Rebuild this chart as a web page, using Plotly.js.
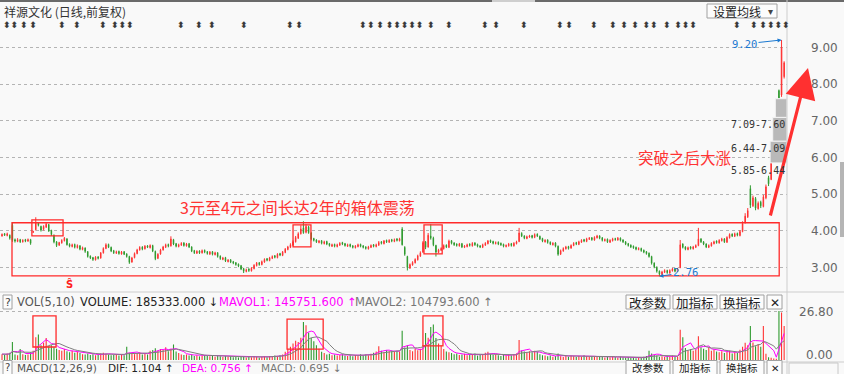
<!DOCTYPE html>
<html><head><meta charset="utf-8">
<script src="https://cdn.plot.ly/plotly-3.0.1.min.js"></script>
<style>html,body{margin:0;padding:0;background:#f9f9f9;}#chart{width:844px;height:374px;}</style>
</head><body><div id="chart"></div>
<script>
// ---- price data (daily bars, left to right) ----
const openP = [
3.86,3.92,3.87,3.88,4.15,3.76,3.71,3.76,3.70,3.76,
3.72,3.76,3.96,4.03,4.21,4.12,4.04,4.10,4.17,4.01,
3.88,3.70,3.61,3.67,3.73,3.78,3.63,3.57,3.63,3.54,
3.59,3.49,3.53,3.43,3.31,3.27,3.21,3.29,3.26,3.40,
3.52,3.63,3.55,3.46,3.39,3.44,3.37,3.43,3.37,3.30,
3.15,3.27,3.38,3.48,3.56,3.51,3.59,3.54,3.60,3.44,
3.25,3.37,3.48,3.55,3.63,3.59,3.76,3.65,3.57,3.61,
3.67,3.59,3.65,3.56,3.46,3.39,3.45,3.40,3.47,3.43,
3.37,3.43,3.35,3.40,3.31,3.22,3.27,3.16,3.21,3.16,
3.13,3.09,3.05,2.97,2.89,2.96,2.91,2.97,3.05,3.13,
3.08,3.15,3.24,3.19,3.25,3.32,3.27,3.38,3.33,3.41,
3.49,3.55,3.61,3.70,3.80,3.92,4.08,3.96,4.10,3.94,
3.79,3.75,3.68,3.73,3.65,3.71,3.65,3.58,3.63,3.57,
3.61,3.68,3.65,3.58,3.63,3.59,3.54,3.57,3.63,3.59,
3.56,3.51,3.55,3.62,3.57,3.61,3.70,3.65,3.74,3.69,
3.76,3.71,3.78,3.73,4.05,3.55,3.30,2.99,3.07,3.13,
3.21,3.31,3.42,3.70,3.56,3.86,3.80,3.60,3.41,3.47,
3.51,3.61,3.55,3.73,3.67,3.64,3.59,3.65,3.55,3.57,
3.64,3.59,3.67,3.63,3.59,3.55,3.61,3.65,3.74,3.71,
3.65,3.69,3.66,3.63,3.57,3.59,3.65,3.59,3.65,3.71,
3.93,3.86,3.79,3.83,3.87,3.82,3.91,3.85,3.79,3.70,
3.75,3.69,3.62,3.67,3.58,3.37,3.45,3.51,3.57,3.53,
3.60,3.68,3.63,3.69,3.76,3.71,3.77,3.81,3.75,3.81,
3.86,3.81,3.73,3.77,3.69,3.73,3.79,3.75,3.80,3.75,
3.70,3.65,3.61,3.58,3.55,3.49,3.52,3.47,3.43,3.39,
3.30,3.12,3.01,2.90,2.81,2.87,2.92,2.85,2.91,2.97,
2.90,3.00,3.64,3.56,3.49,3.56,3.51,3.55,3.60,3.78,
3.70,3.64,3.55,3.59,3.65,3.72,3.67,3.73,3.78,3.69,
3.81,3.91,3.85,3.93,3.87,3.98,4.22,4.38,5.15,4.68,
4.88,4.60,4.78,4.66,4.90,5.45,5.40,6.44,7.09,7.82,
7.70,8.20];
const highP = [
3.93,3.94,3.95,3.90,4.22,3.79,3.80,3.78,3.77,3.78,
3.79,3.78,4.00,4.37,4.24,4.14,4.15,4.22,4.19,4.03,
3.90,3.72,3.70,3.77,3.83,3.80,3.66,3.65,3.65,3.63,
3.61,3.57,3.55,3.45,3.33,3.29,3.31,3.31,3.42,3.55,
3.66,3.65,3.57,3.48,3.46,3.46,3.45,3.45,3.39,3.32,
3.29,3.41,3.51,3.58,3.58,3.61,3.61,3.63,3.62,3.46,
3.39,3.51,3.59,3.65,3.65,3.85,3.78,3.67,3.65,3.69,
3.69,3.67,3.67,3.58,3.48,3.47,3.47,3.49,3.49,3.45,
3.45,3.45,3.43,3.42,3.33,3.29,3.29,3.23,3.23,3.18,
3.15,3.11,3.07,2.99,2.97,2.98,3.01,3.09,3.15,3.15,
3.19,3.25,3.26,3.29,3.33,3.34,3.39,3.40,3.45,3.53,
3.59,3.66,3.74,3.86,3.96,4.15,4.26,4.18,4.14,3.96,
3.81,3.77,3.75,3.75,3.73,3.73,3.67,3.65,3.65,3.65,
3.69,3.70,3.67,3.65,3.65,3.61,3.61,3.65,3.65,3.61,
3.58,3.59,3.63,3.64,3.65,3.72,3.72,3.75,3.76,3.77,
3.78,3.79,3.80,3.81,4.10,3.58,3.32,3.11,3.17,3.25,
3.35,3.44,3.72,3.72,3.94,4.18,3.84,3.62,3.51,3.55,
3.63,3.63,3.76,3.75,3.69,3.66,3.67,3.67,3.61,3.65,
3.66,3.69,3.69,3.65,3.61,3.65,3.69,3.75,3.76,3.73,
3.71,3.71,3.68,3.65,3.63,3.67,3.67,3.69,3.73,4.08,
3.96,3.88,3.87,3.89,3.89,3.93,3.93,3.87,3.81,3.77,
3.77,3.71,3.69,3.69,3.60,3.49,3.55,3.59,3.59,3.63,
3.69,3.70,3.73,3.77,3.78,3.81,3.83,3.83,3.85,3.89,
3.88,3.83,3.79,3.79,3.77,3.81,3.81,3.83,3.82,3.77,
3.72,3.67,3.63,3.60,3.57,3.55,3.54,3.49,3.45,3.41,
3.32,3.14,3.03,2.92,2.91,2.95,2.94,2.95,2.99,2.99,
2.99,3.75,3.66,3.58,3.57,3.58,3.59,3.63,4.08,3.80,
3.72,3.66,3.63,3.69,3.73,3.74,3.77,3.81,3.80,3.85,
3.93,3.93,3.95,3.95,4.02,4.26,4.48,4.62,5.24,4.96,
4.92,4.80,4.82,4.98,5.26,5.50,5.85,6.44,7.09,7.85,
9.20,8.62];
const lowP = [
3.84,3.86,3.85,3.76,3.70,3.68,3.69,3.67,3.68,3.69,
3.70,3.62,3.94,4.01,4.12,3.98,4.01,4.08,3.97,3.86,
3.66,3.56,3.59,3.65,3.71,3.60,3.55,3.55,3.52,3.52,
3.47,3.47,3.40,3.27,3.23,3.18,3.19,3.22,3.24,3.38,
3.50,3.53,3.42,3.37,3.37,3.35,3.35,3.34,3.27,3.10,
3.13,3.25,3.36,3.46,3.47,3.49,3.53,3.52,3.42,3.20,
3.23,3.35,3.46,3.53,3.55,3.57,3.61,3.55,3.55,3.59,
3.57,3.57,3.53,3.42,3.37,3.37,3.37,3.38,3.39,3.35,
3.34,3.33,3.33,3.27,3.21,3.20,3.15,3.14,3.12,3.09,
3.05,3.01,2.93,2.85,2.87,2.88,2.89,2.95,3.03,3.05,
3.06,3.13,3.17,3.17,3.23,3.25,3.25,3.31,3.31,3.39,
3.47,3.53,3.59,3.68,3.78,3.90,3.92,3.93,3.92,3.74,
3.71,3.67,3.66,3.63,3.63,3.61,3.57,3.56,3.55,3.55,
3.59,3.61,3.57,3.56,3.55,3.52,3.52,3.55,3.55,3.52,
3.49,3.49,3.53,3.55,3.55,3.59,3.63,3.63,3.67,3.67,
3.69,3.69,3.71,3.71,3.60,3.32,2.92,2.96,3.05,3.11,
3.19,3.29,3.40,3.50,3.54,3.76,3.58,3.30,3.39,3.45,
3.49,3.53,3.53,3.63,3.59,3.57,3.57,3.53,3.53,3.55,
3.57,3.57,3.59,3.55,3.53,3.53,3.59,3.63,3.67,3.63,
3.63,3.61,3.59,3.55,3.55,3.57,3.57,3.57,3.63,3.69,
3.83,3.77,3.77,3.81,3.79,3.80,3.83,3.75,3.69,3.68,
3.65,3.61,3.60,3.55,3.32,3.34,3.43,3.49,3.49,3.51,
3.58,3.61,3.61,3.67,3.69,3.69,3.75,3.73,3.73,3.79,
3.77,3.71,3.71,3.67,3.67,3.71,3.73,3.73,3.71,3.67,
3.61,3.57,3.53,3.51,3.47,3.47,3.43,3.39,3.35,3.27,
3.08,2.98,2.86,2.76,2.79,2.85,2.83,2.83,2.89,2.87,
2.88,2.98,3.52,3.47,3.47,3.49,3.49,3.53,3.58,3.67,
3.61,3.53,3.53,3.57,3.63,3.65,3.65,3.71,3.67,3.67,
3.79,3.83,3.83,3.85,3.85,3.96,4.20,4.35,4.62,4.65,
4.56,4.58,4.62,4.64,4.86,5.22,5.38,6.44,7.09,7.60,
7.65,8.15];
const closeP = [
3.90,3.88,3.92,3.80,3.74,3.72,3.76,3.70,3.74,3.72,
3.76,3.66,3.98,4.22,4.15,4.02,4.12,4.18,4.00,3.90,
3.70,3.60,3.68,3.74,3.80,3.62,3.58,3.62,3.55,3.60,
3.50,3.54,3.44,3.30,3.26,3.22,3.28,3.25,3.40,3.52,
3.62,3.55,3.45,3.40,3.43,3.38,3.42,3.36,3.30,3.14,
3.26,3.38,3.48,3.55,3.50,3.58,3.55,3.60,3.45,3.24,
3.36,3.48,3.56,3.62,3.58,3.78,3.64,3.58,3.62,3.66,
3.60,3.64,3.56,3.45,3.40,3.44,3.40,3.46,3.42,3.38,
3.42,3.36,3.40,3.30,3.24,3.26,3.18,3.20,3.15,3.12,
3.08,3.04,2.96,2.90,2.94,2.92,2.98,3.06,3.12,3.08,
3.16,3.22,3.20,3.26,3.30,3.28,3.36,3.34,3.42,3.50,
3.56,3.62,3.70,3.82,3.92,4.05,3.95,4.12,3.95,3.78,
3.74,3.70,3.72,3.66,3.70,3.64,3.60,3.62,3.58,3.62,
3.66,3.64,3.60,3.62,3.58,3.55,3.58,3.62,3.58,3.55,
3.52,3.56,3.60,3.58,3.62,3.68,3.66,3.72,3.70,3.74,
3.72,3.76,3.74,3.78,3.62,3.36,3.00,3.08,3.14,3.22,
3.32,3.40,3.68,3.55,3.88,3.80,3.62,3.42,3.48,3.52,
3.60,3.56,3.72,3.66,3.62,3.60,3.64,3.56,3.58,3.62,
3.60,3.66,3.62,3.58,3.56,3.62,3.66,3.72,3.70,3.66,
3.68,3.64,3.62,3.58,3.60,3.64,3.60,3.66,3.70,3.94,
3.86,3.80,3.84,3.86,3.82,3.90,3.86,3.78,3.72,3.74,
3.68,3.64,3.66,3.58,3.36,3.46,3.52,3.56,3.52,3.60,
3.66,3.64,3.70,3.74,3.72,3.78,3.80,3.76,3.82,3.86,
3.80,3.74,3.76,3.70,3.74,3.78,3.76,3.80,3.74,3.70,
3.64,3.60,3.56,3.54,3.50,3.52,3.46,3.42,3.38,3.30,
3.12,3.02,2.90,2.82,2.88,2.92,2.86,2.92,2.96,2.90,
2.96,3.62,3.55,3.50,3.54,3.52,3.56,3.60,3.78,3.70,
3.64,3.56,3.60,3.66,3.70,3.68,3.74,3.78,3.70,3.82,
3.90,3.86,3.92,3.88,3.98,4.20,4.40,4.55,4.70,4.90,
4.62,4.75,4.68,4.92,5.20,5.28,5.85,6.44,7.09,7.62,
9.00,8.58];
// volume, in 10,000 lots (axis max 26.80)
const volume = [
3.2,2.8,3.5,4.0,9.8,3.0,2.6,6.0,3.2,2.8,
3.0,4.2,5.0,12.5,13.9,8.0,9.5,12.0,7.5,8.0,
7.0,6.2,5.5,5.0,6.0,4.8,4.2,5.0,4.0,4.5,
3.8,3.2,3.0,3.5,2.8,3.2,2.6,3.0,3.6,4.0,
3.4,3.0,2.6,2.8,3.2,2.5,3.0,2.6,7.2,4.0,
3.6,3.2,3.8,4.2,3.0,3.4,3.0,5.0,5.5,6.4,
5.2,6.0,5.5,7.0,4.8,6.2,8.5,4.6,3.8,3.0,
2.8,3.0,2.5,3.2,2.2,2.6,2.0,2.4,2.8,2.2,
2.0,2.6,1.8,2.4,2.0,1.6,2.2,1.8,2.0,1.5,
1.8,1.4,2.0,1.6,1.3,1.8,1.5,2.2,1.6,1.4,
1.8,2.0,1.5,2.2,1.6,2.4,1.8,2.6,3.0,4.5,
6.0,7.2,9.0,10.5,9.8,12.2,20.8,19.0,15.0,12.0,
10.2,8.0,6.2,4.5,3.8,3.0,3.4,2.6,3.0,2.4,
2.8,3.2,2.5,2.2,2.6,2.0,2.8,2.4,3.2,2.6,
3.0,2.6,3.4,4.0,4.6,7.5,5.0,4.2,5.4,4.8,
5.2,4.4,5.0,4.6,16.0,6.8,8.0,5.5,4.8,6.0,
5.4,6.2,8.2,14.8,12.2,18.0,19.4,12.0,9.0,8.0,
6.0,4.6,4.2,3.8,3.2,3.5,2.8,3.0,3.4,2.6,
3.0,2.8,3.6,2.4,2.8,3.2,4.0,4.5,3.2,2.8,
3.0,2.6,2.2,2.8,2.4,3.0,2.6,3.2,3.6,11.0,
5.2,4.6,4.0,4.8,4.2,5.0,4.4,3.2,2.6,2.4,
2.0,2.4,1.8,2.2,3.6,2.0,1.6,2.2,1.8,2.4,
2.0,1.6,2.2,1.8,2.6,2.0,1.6,2.2,1.8,2.0,
1.6,2.0,1.4,1.8,1.5,2.2,1.6,1.4,1.8,1.5,
1.3,1.6,1.2,1.4,1.0,1.5,1.2,1.8,2.2,5.0,
3.6,2.8,2.4,1.8,2.0,1.6,2.2,1.8,2.4,2.0,
1.8,16.6,12.5,6.5,5.2,6.0,5.0,5.6,13.0,7.0,
6.2,5.5,6.8,5.0,5.8,4.6,4.2,4.8,3.8,4.4,
5.0,3.6,4.2,3.8,5.6,7.2,9.4,8.0,18.6,9.6,
7.5,8.8,7.2,18.6,3.4,1.5,1.2,0.80,0.74,26.8,
26.0,18.53];
// bars carrying an information-mine marker in the top row
const infoBars = [3,5,8,11,23,29,39,45,47,48,69,76,81,93,111,114,139,145,148,151,153,155,157,158,
  162,172,186,190,201,215,218,228,236,240,244,248,250,258,262,263,264,283,292,295,296,298,299];
// price gaps (grey blocks): bar before the gap, gap low, gap high
const gapBar = [298, 297, 296];
const gapLow = [7.09, 6.44, 5.85];
const gapHigh = [7.60, 7.09, 6.44];
const priceTicks = [3, 4, 5, 6, 7, 8, 9];
const sellSignalBar = 26;
const headerVol = ['VOL(5,10)', 'VOLUME: 185333.000 ↓', 'MAVOL1: 145751.600 ↑', 'MAVOL2: 104793.600 ↑'];
const headerMacd = ['MACD(12,26,9)', 'DIF: 1.104 ↑', 'DEA: 0.756 ↑', 'MACD: 0.695 ↓'];
const buttonLabels = ['改参数', '加指标', '换指标', '✕'];

// ---------------- drawing ----------------
const RED = '#ff3232', GREEN = '#2e9a2e', BG = '#f9f9f9';
const idx = closeP.map((_, i) => i);
const W = 787, H = 374;          // plot area width (right margin holds the axis)
const px = x => x / W;           // pixel -> paper x
const py = y => 1 - y / H;       // pixel -> paper y
const XR = [-0.77, 302.1];
const YR = [2.333, 10.289];

function movAvg(arr, n) {
  return arr.map((_, i) => {
    const s = arr.slice(Math.max(0, i - n + 1), i + 1);
    return s.reduce((a, b) => a + b, 0) / s.length;
  });
}
const volColors = idx.map(i => closeP[i] >= openP[i] ? RED : GREEN);
const vmax = Math.max(...volume);

const traces = [
  {type: 'candlestick', x: idx, open: openP, high: highP, low: lowP, close: closeP,
   xaxis: 'x', yaxis: 'y', whiskerwidth: 0, hoverinfo: 'skip',
   increasing: {line: {color: RED, width: 1}, fillcolor: RED},
   decreasing: {line: {color: GREEN, width: 1}, fillcolor: GREEN}},
  {type: 'bar', x: idx, y: volume, xaxis: 'x2', yaxis: 'y2', width: 0.42,
   marker: {color: volColors, line: {width: 0}}, hoverinfo: 'skip'},
  {type: 'scatter', mode: 'lines', x: idx, y: movAvg(volume, 5), xaxis: 'x2', yaxis: 'y2',
   line: {color: '#ff00ff', width: 1}, hoverinfo: 'skip'},
  {type: 'scatter', mode: 'lines', x: idx, y: movAvg(volume, 10), xaxis: 'x2', yaxis: 'y2',
   line: {color: '#7f7f7f', width: 1}, hoverinfo: 'skip'}
];

const shapes = [];
const annotations = [];
const RB = {type: 'rect', line: {color: '#ff2a2a', width: 1.3}, fillcolor: 'rgba(0,0,0,0)'};
// price boxes
shapes.push(Object.assign({}, RB, {xref: 'x', yref: 'y', x0: 3.85, x1: 299.1, y0: 2.77, y1: 4.22}));
shapes.push(Object.assign({}, RB, {xref: 'x', yref: 'y', x0: 11.5, x1: 23.5, y0: 3.86, y1: 4.30}));
shapes.push(Object.assign({}, RB, {xref: 'x', yref: 'y', x0: 112.0, x1: 118.9, y0: 3.56, y1: 4.16}));
shapes.push(Object.assign({}, RB, {xref: 'x', yref: 'y', x0: 162.4, x1: 169.4, y0: 3.37, y1: 4.16}));
// volume boxes
shapes.push(Object.assign({}, RB, {xref: 'x2', yref: 'y2', x0: 11.9, x1: 20.8, y0: 7.1, y1: 24.1}));
shapes.push(Object.assign({}, RB, {xref: 'x2', yref: 'y2', x0: 109.7, x1: 123.6, y0: 6.0, y1: 22.4}));
shapes.push(Object.assign({}, RB, {xref: 'x2', yref: 'y2', x0: 162.0, x1: 169.7, y0: 7.7, y1: 24.1}));
// gap blocks
gapLow.forEach((lo, k) => {
  shapes.push({type: 'rect', xref: 'x', yref: 'y', x0: gapBar[k] - 0.4, x1: XR[1], y0: lo, y1: gapHigh[k],
    fillcolor: '#b9b9b9', line: {color: '#f4f4f4', width: 1}, layer: 'above'});
});
// frame lines
const L = (x0, y0, x1, y1, c, w) => shapes.push({type: 'line', xref: 'paper', yref: 'paper',
  x0: px(x0), y0: py(y0), x1: px(x1), y1: py(y1), line: {color: c, width: w}});
L(0, 1, 492, 1, '#6a6a6a', 2); L(535, 1, 844, 1, '#6a6a6a', 2); L(492, 1, 535, 1, '#cfcfcf', 2);
L(787, 0, 787, 374, '#cdcdcd', 1);
L(0, 292, 844, 292, '#cdcdcd', 1);
L(0, 362, 844, 362, '#cdcdcd', 1);
shapes.push({type: 'rect', xref: 'paper', yref: 'paper', x0: px(840), x1: px(844), y0: py(237), y1: py(162),
  fillcolor: '#b5b5b5', line: {width: 0}});
shapes.push({type: 'rect', xref: 'paper', yref: 'paper', x0: px(789), x1: px(838), y0: py(378), y1: py(363),
  fillcolor: 'rgba(0,0,0,0)', line: {color: '#c8c8c8', width: 1}});

const T = (text, x, y, opt) => annotations.push(Object.assign({text: text, xref: 'paper', yref: 'paper',
  x: px(x), y: py(y), showarrow: false, xanchor: 'left', yanchor: 'middle',
  font: {family: 'DejaVu Sans', size: 12, color: '#333'}}, opt || {}));
const btn = (x0, y0, x1, y1) => shapes.push({type: 'rect', xref: 'paper', yref: 'paper',
  x0: px(x0), x1: px(x1), y0: py(y1), y1: py(y0), fillcolor: '#fcfcfc', line: {color: '#a0a0a0', width: 1}});

// title + 设置均线 button
T('祥源文化 (日线,前复权)', 3, 11, {borderpad: 0, font: {family: 'Noto Sans CJK SC', size: 12, color: '#333'}});
btn(707, 4, 777, 18);
T('设置均线', 737, 11, {xanchor: 'center', borderpad: 0, font: {family: 'Noto Sans CJK SC', size: 12, color: '#222'}});
T('▾', 770, 11, {xanchor: 'center', borderpad: 0, font: {family: 'DejaVu Sans', size: 10, color: '#444'}});

// info-mine markers: neighbouring bars (<= 4 apart) share one run of glyphs,
// thin spaces widen the run where the bars are further apart
const runs = [];
infoBars.forEach(b => {
  const last = runs[runs.length - 1];
  if (last && b - last[last.length - 1] <= 4) last.push(b); else runs.push([b]);
});
runs.forEach(r => {
  let s = '⬍';
  for (let k = 1; k < r.length; k++) s += '\u2009'.repeat(Math.max(0, r[k] - r[k - 1] - 2)) + '⬍';
  annotations.push({text: '<b>' + s + '</b>', xref: 'x', yref: 'paper',
    x: (r[0] + r[r.length - 1]) / 2, y: py(25.5), yanchor: 'middle', borderpad: 0, showarrow: false,
    font: {family: 'DejaVu Sans', size: 9, color: '#3a3a3a'}});
});

// indicator headers and buttons
[[302, headerVol, 11.5, 12.5], [367.5, headerMacd, 10.5, 10.5]].forEach(([yy, hdr, fs, bfs]) => {
  btn(3, yy - 7, 12, yy + 7);
  T('?', 7.5, yy, {xanchor: 'center', font: {family: 'DejaVu Sans', size: fs - 0.5, color: '#444'}});
  const xs = yy < 340 ? [15, 78, 217, 353] : [15, 106, 180, 259];
  const cs = ['#555', '#222', '#ff00ff', '#777'];
  hdr.forEach((t, k) => T(t, xs[k], yy, {font: {family: 'DejaVu Sans', size: fs, color: cs[k]}}));
  const bx = [[626, 670], [673, 717], [720, 764], [767, 782]];
  buttonLabels.forEach((t, k) => {
    btn(bx[k][0], yy - 7, bx[k][1], yy + 7);
    T(t, (bx[k][0] + bx[k][1]) / 2, yy, {xanchor: 'center',
      font: {family: 'Noto Sans CJK SC', size: k < 3 ? bfs : bfs - 1, color: '#222'}});
  });
});

// volume axis labels
T(vmax.toFixed(2), 835, 312, {xanchor: 'right', font: {family: 'DejaVu Sans', size: 12, color: '#666'}});
T((0).toFixed(2), 835, 354.7, {xanchor: 'right', font: {family: 'DejaVu Sans', size: 12, color: '#666'}});

// commentary
T('3元至4元之间长达2年的箱体震荡', 297.5, 207, {xanchor: 'center',
  font: {family: 'Noto Sans CJK SC', size: 16, color: '#ff3333'}});
T('突破之后大涨', 685, 157, {xanchor: 'center', borderpad: 0,
  font: {family: 'Noto Sans CJK SC', size: 15.5, color: '#ff3333'}});
annotations.push({xref: 'paper', yref: 'paper', x: px(808), y: py(68), ax: -38, ay: 149, text: '',
  showarrow: true, arrowhead: 2, arrowsize: 1.9, arrowwidth: 3.2, arrowcolor: '#ff3030', standoff: 0});
// gap labels (drawn just under each gap block)
gapLow.forEach((lo, k) => annotations.push({xref: 'paper', yref: 'y', x: px(786), y: lo, yshift: -1,
  xanchor: 'right', yanchor: 'top', showarrow: false, borderpad: 0, text: lo.toFixed(2) + '-' + gapHigh[k].toFixed(2),
  font: {family: 'DejaVu Sans Mono', size: 10, color: '#333'}}));
// extreme labels
const hiIdx = highP.indexOf(Math.max(...highP));
const loIdx = lowP.indexOf(Math.min(...lowP));
annotations.push({xref: 'x', yref: 'y', x: hiIdx, y: highP[hiIdx], text: highP[hiIdx].toFixed(2),
  ax: -37, ay: 4, showarrow: true, arrowhead: 2, arrowsize: 0.8, arrowwidth: 1, arrowcolor: '#1a78d0',
  standoff: 0, font: {family: 'DejaVu Sans Mono', size: 10.5, color: '#1a78d0'}});
annotations.push({xref: 'x', yref: 'y', x: loIdx, y: lowP[loIdx], text: lowP[loIdx].toFixed(2),
  ax: 26, ay: -4, showarrow: true, arrowhead: 2, arrowsize: 0.8, arrowwidth: 1, arrowcolor: '#1a78d0',
  standoff: 0, font: {family: 'DejaVu Sans Mono', size: 10.5, color: '#1a78d0'}});
// sell signal marker
annotations.push({xref: 'x', yref: 'paper', x: sellSignalBar, y: py(284), text: '<b>Ŝ</b>', showarrow: false,
  yanchor: 'middle', font: {family: 'DejaVu Sans', size: 10, color: '#ff2020'}});

const layout = {
  width: 844, height: 374, margin: {l: 0, r: 57, t: 0, b: 0},
  paper_bgcolor: BG, plot_bgcolor: BG, showlegend: false, dragmode: false, boxgap: 0.7,
  font: {family: 'DejaVu Sans', size: 12, color: '#333'},
  xaxis: {domain: [0, 1], range: XR, anchor: 'y', visible: false, rangeslider: {visible: false}, fixedrange: true},
  xaxis2: {domain: [0, 1], range: XR, anchor: 'y2', visible: false, matches: 'x', fixedrange: true},
  yaxis: {domain: [1 - 292 / H, 1], range: YR, side: 'right', anchor: 'x',
    tickvals: priceTicks, ticktext: priceTicks.map(v => v.toFixed(2)), ticks: '', ticklabelstandoff: 23,
    showgrid: true, gridcolor: '#b4b4b4', griddash: 'dot', gridwidth: 1, zeroline: false, showline: false,
    tickfont: {family: 'DejaVu Sans', size: 12, color: '#666'}, fixedrange: true},
  yaxis2: {domain: [1 - 360 / H, 1 - 305 / H], range: [0, 30.08], side: 'right', anchor: 'x2',
    tickvals: [vmax], showticklabels: false, ticks: '',
    showgrid: true, gridcolor: '#b4b4b4', griddash: 'dot', zeroline: false, showline: false, fixedrange: true},
  shapes: shapes, annotations: annotations
};
Plotly.newPlot('chart', traces, layout, {displayModeBar: false, staticPlot: true});
</script></body></html>
